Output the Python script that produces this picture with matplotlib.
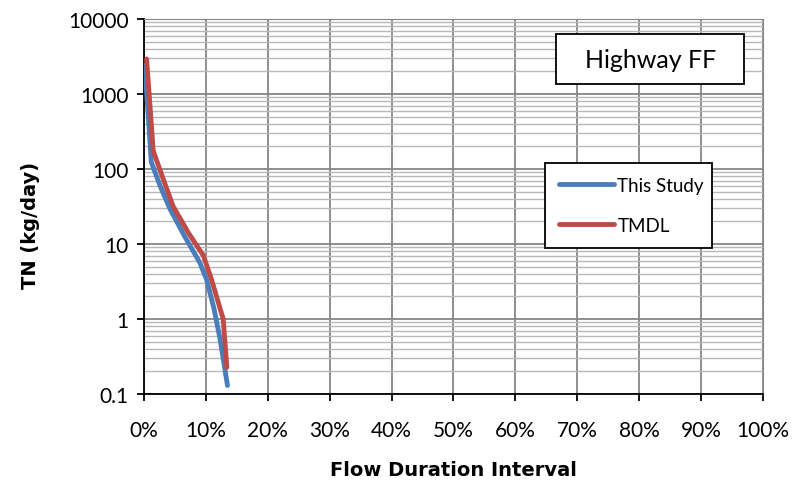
import matplotlib
matplotlib.use('Agg')
import matplotlib.pyplot as plt
from matplotlib.patches import Rectangle
from matplotlib.ticker import FixedLocator, LogLocator, NullFormatter, PercentFormatter

plt.rcParams['font.family'] = ['Lato', 'DejaVu Sans']

# flow duration interval (%) and load (kg/day)
study_x = [0.16, 1.2, 2.6, 4.2, 6.5, 9.0, 10.1, 11.3, 12.3, 13.5]
study_y = [2400, 123, 60, 29.5, 13, 5.7, 3.4, 1.4, 0.54, 0.13]
tmdl_x = [0.43, 1.5, 3.1, 4.7, 7.2, 9.6, 10.9, 12.8, 13.4]
tmdl_y = [2930, 175, 74, 32, 14, 7, 3.4, 1.0, 0.227]

fig = plt.figure(figsize=(8.04, 4.85), dpi=100)
ax = fig.add_axes([0.179, 0.1856, 0.77, 0.7732])

ax.plot(study_x, study_y, color='#4a7ebb', lw=3.5, solid_capstyle='round', label='This Study', zorder=3)
ax.plot(tmdl_x, tmdl_y, color='#be4b48', lw=3.5, solid_capstyle='round', label='TMDL', zorder=3)

ax.set_yscale('log')
ax.set_ylim(0.1, 10000)
ax.set_xlim(0, 100)
ax.xaxis.set_major_locator(FixedLocator(range(0, 101, 10)))
ax.xaxis.set_major_formatter(PercentFormatter(decimals=0))
ax.yaxis.set_major_locator(FixedLocator([0.1, 1, 10, 100, 1000, 10000]))
ax.set_yticklabels(['0.1', '1', '10', '100', '1000', '10000'])
ax.yaxis.set_minor_locator(LogLocator(base=10, subs=range(2, 10)))
ax.yaxis.set_minor_formatter(NullFormatter())

ax.grid(True, which='major', color='#868686', lw=1.3)
ax.grid(True, which='minor', axis='y', color='#b8b8b8', lw=1.0)
ax.set_axisbelow(True)

for s in ['top', 'right']:
    ax.spines[s].set_color('#868686')
for s in ['left', 'bottom']:
    ax.spines[s].set_color('black')
    ax.spines[s].set_linewidth(1.3)

ax.tick_params(axis='both', which='major', direction='out', length=5, width=1.3, labelsize=15)
ax.tick_params(axis='y', which='minor', length=0)
ax.tick_params(axis='x', pad=14)
ax.tick_params(axis='y', pad=6)

ax.set_ylabel('TN (kg/day)', fontsize=14, fontweight='bold', family='DejaVu Sans')
ax.yaxis.set_label_coords(-0.168, 0.453)
ax.set_xlabel('Flow Duration Interval', fontsize=14, fontweight='bold', family='DejaVu Sans')
ax.xaxis.set_label_coords(0.5, -0.175)

leg = ax.legend(loc='upper left', bbox_to_anchor=(0.648, 0.395, 0.27, 0.221), mode='expand',
                borderaxespad=0, fontsize=13.5, frameon=True, fancybox=False, edgecolor='black',
                handlelength=2.9, handletextpad=0.2, labelspacing=1.2, borderpad=0.75)
leg.get_frame().set_linewidth(1.3)
leg.get_frame().set_facecolor('white')
leg.get_frame().set_alpha(1)

# label box in the top right corner
ax.add_patch(Rectangle((0.666, 0.827), 0.304, 0.133, transform=ax.transAxes,
                       facecolor='white', edgecolor='black', lw=1.3, zorder=5))
ax.text(0.818, 0.893, 'Highway FF', transform=ax.transAxes, fontsize=18, ha='center', va='center', zorder=6)

fig.savefig('out.png', dpi=100)
